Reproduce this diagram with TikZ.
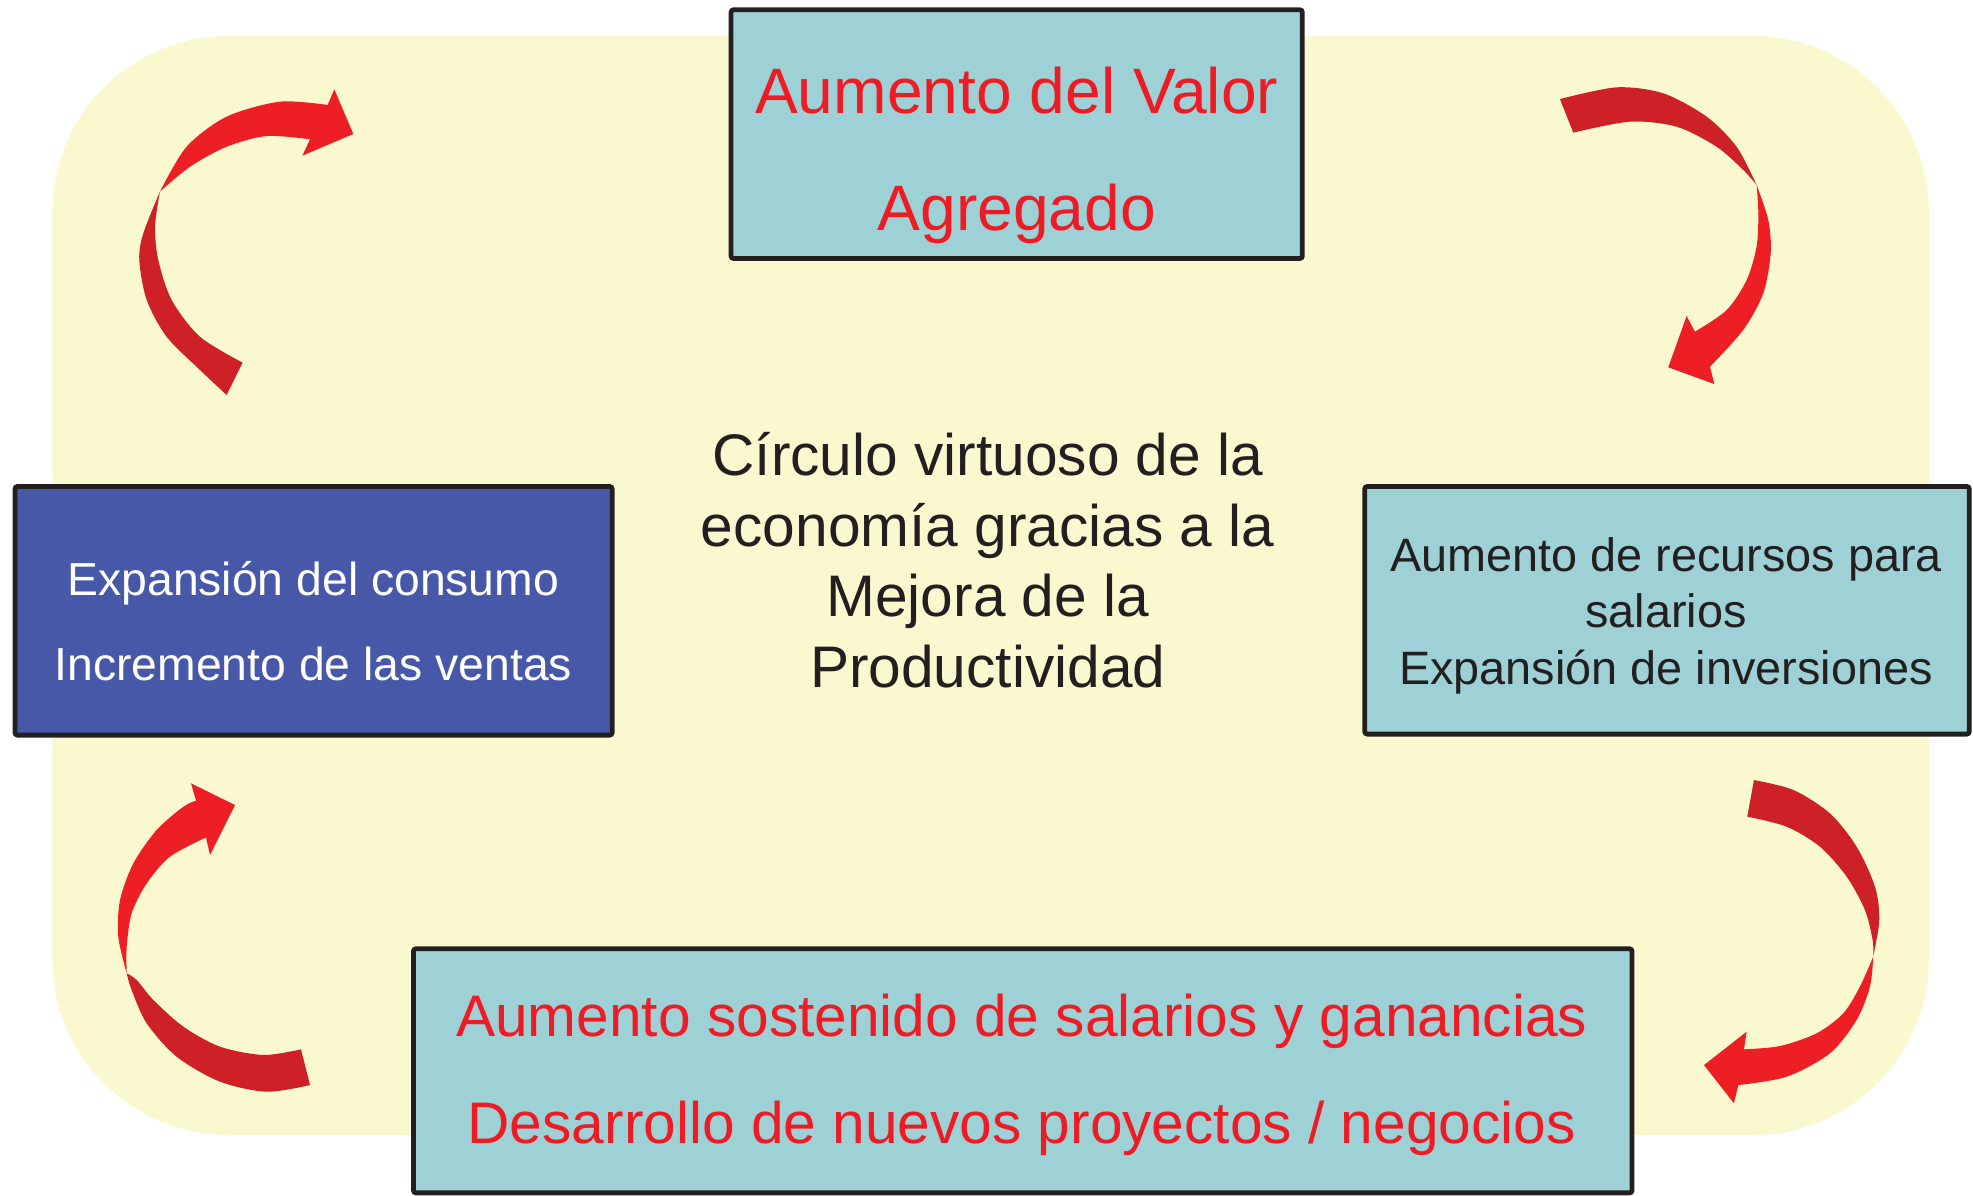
\documentclass[tikz,border=0pt]{standalone}
\usepackage{fontspec}
\setmainfont{Liberation Sans}
\definecolor{bgyellow}{RGB}{250,248,207}
\definecolor{tealfill}{RGB}{158,209,214}
\definecolor{bluefill}{RGB}{70,88,167}
\definecolor{boxline}{RGB}{35,31,32}
\definecolor{redtext}{RGB}{237,28,36}
\definecolor{darktext}{RGB}{35,31,32}
\definecolor{arrowdark}{RGB}{205,32,39}
\definecolor{arrowbright}{RGB}{238,31,36}
\begin{document}
\begin{tikzpicture}[x=0.5pt,y=-0.5pt,
  boxbase/.style={draw=boxline, line width=1.9pt, rounded corners=1pt, inner sep=0pt},
  tealbox/.style={boxbase, fill=tealfill},
  bluebox/.style={boxbase, fill=bluefill},
  txtbase/.style={anchor=base, inner sep=0pt},
  bigred/.style={txtbase, text=redtext, font=\fontsize{25.5}{30}\selectfont},
  midred/.style={txtbase, text=redtext, font=\fontsize{23.3}{28}\selectfont},
  centertxt/.style={txtbase, text=darktext, font=\fontsize{23.3}{28}\selectfont},
  smallwhite/.style={txtbase, text=white, font=\fontsize{18.4}{22}\selectfont},
  smalldark/.style={txtbase, text=darktext, font=\fontsize{18.6}{22}\selectfont},
  arrdark/.style={fill=arrowdark},
  arrbright/.style={fill=arrowbright}]
\useasboundingbox (0,0) rectangle (1568,950);
% background
\fill[bgyellow, rounded corners=70pt] (41.6,28.6) rectangle (1533,902);

% boxes
\node[tealbox, minimum width=227pt, minimum height=98.8pt] (topbox) at (808,106.6) {};
\node[bluebox, minimum width=237.3pt, minimum height=98.8pt] (leftbox) at (249.2,485.4) {};
\node[tealbox, minimum width=240.2pt, minimum height=98.4pt] (rightbox) at (1324.8,485) {};
\node[tealbox, minimum width=484.2pt, minimum height=97pt] (bottombox) at (812.8,851) {};

% texts
\node[bigred] (t1) at (808,90.3) {Aumento del Valor};
\node[bigred] (t2) at (808,182.8) {Agregado};
\node[smallwhite] (l1) at (249,473.5) {Expansión del consumo};
\node[smallwhite] (l2) at (249,540.5) {Incremento de las ventas};
\node[smalldark] (r1) at (1324,454.5) {Aumento de recursos para};
\node[smalldark] (r2) at (1324,499) {salarios};
\node[smalldark] (r3) at (1324,544) {Expansión de inversiones};
\node[centertxt] (c1) at (785,378) {Círculo virtuoso de la};
\node[centertxt] (c2) at (785,434) {economía gracias a la};
\node[centertxt] (c3) at (785,490) {Mejora de la};
\node[centertxt] (c4) at (785,546) {Productividad};
\node[midred] (b1) at (812,824) {Aumento sostenido de salarios y ganancias};
\node[midred] (b2) at (812,909) {Desarrollo de nuevos proyectos / negocios};

% top-left arrow
\fill[arrdark] plot[smooth] coordinates {(127.1,152.3) (113.9,185.4) (110.7,206.6) (116.6,238.4) (132.4,267.6) (158.9,294.0) (180.1,313.9)}
  -- plot[smooth] coordinates {(192.8,288.2) (158.9,267.6) (136.4,238.4) (125.8,206.6) (123.2,180.1) (127.1,152.3)} -- cycle;
\fill[arrbright] plot[smooth] coordinates {(127.1,152.3) (148.3,116.6) (180.1,92.7) (222.5,80.8) (260.4,83.4)}
  -- (265.7,71.0) -- (280.8,106.5) -- (240.3,123.7) -- (246.4,110.7)
  -- plot[smooth] coordinates {(246.4,110.7) (211.9,108.1) (180.1,116.6) (151.0,132.5) (127.1,152.3)} -- cycle;

% top-right arrow
\fill[arrdark] plot[smooth] coordinates {(1239.7,78.7) (1284.8,69.4) (1321.9,74.2) (1356.3,92.7) (1380.1,116.6) (1396.0,147.0)}
  -- plot[smooth] coordinates {(1396.0,147.0) (1385.4,135.1) (1364.2,116.6) (1332.5,100.7) (1295.4,96.7) (1250.3,105.4)} -- cycle;
\fill[arrbright] plot[smooth] coordinates {(1396.0,147.0) (1405.3,174.8) (1407.2,201.3) (1401.3,233.1) (1385.4,262.2) (1359.0,291.4)}
  -- (1362.4,305.2) -- (1325.8,291.9) -- (1340.4,251.1) -- (1347.0,263.6)
  -- plot[smooth] coordinates {(1347.0,263.6) (1372.2,246.4) (1388.1,222.5) (1396.0,196.0) (1397.4,169.5) (1396.0,147.0)} -- cycle;

% bottom-right arrow
\fill[arrdark] plot[smooth] coordinates {(1393.9,619.9) (1425.2,627.8) (1454.3,646.4) (1475.5,672.9) (1490.1,704.7) (1493.5,731.2) (1488.7,760.3)}
  -- plot[smooth] coordinates {(1488.7,760.3) (1488.2,747.0) (1482.1,723.2) (1467.6,696.7) (1446.4,672.9) (1419.9,657.0) (1388.6,649.0)} -- cycle;
\fill[arrbright] plot[smooth] coordinates {(1488.7,760.3) (1486.1,784.1) (1475.5,810.6) (1454.3,837.1) (1419.9,855.7) (1381.5,862.3)}
  -- (1378.0,876.8) -- (1354.2,846.4) -- (1388.1,819.9) -- (1386.0,833.9)
  -- plot[smooth] coordinates {(1386.0,833.9) (1414.6,831.3) (1443.7,821.2) (1464.9,805.3) (1478.1,784.1) (1488.7,760.3)} -- cycle;

% bottom-left arrow
\fill[arrdark] plot[smooth] coordinates {(246.4,862.3) (211.9,867.6) (174.8,859.6) (140.4,839.8) (116.6,813.3) (104.6,786.8) (100.7,773.5)}
  -- plot[smooth] coordinates {(100.7,773.5) (108.6,778.8) (121.9,794.7) (145.7,815.9) (174.8,831.8) (209.3,838.4) (239.2,833.9)} -- cycle;
\fill[arrbright] plot[smooth] coordinates {(100.7,773.5) (94.0,744.4) (95.4,715.3) (106.0,686.1) (124.5,659.6) (145.7,641.1) (155.8,636.3)}
  -- (151.8,622.5) -- (186.8,639.8) -- (166.9,679.5) -- (163.7,665.5)
  -- plot[smooth] coordinates {(163.7,665.5) (135.1,680.8) (116.6,702.0) (104.6,725.9) (100.7,752.3) (100.7,773.5)} -- cycle;
\end{tikzpicture}
\end{document}
